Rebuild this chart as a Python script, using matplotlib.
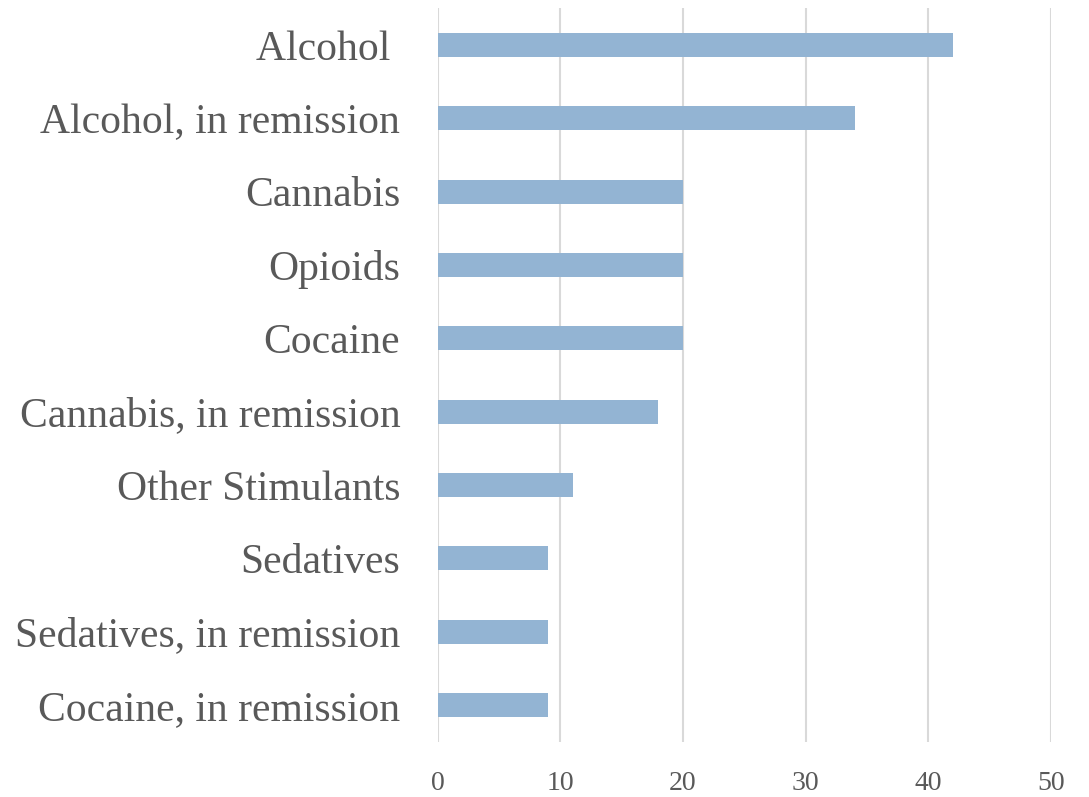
import matplotlib
matplotlib.use("Agg")
import matplotlib.pyplot as plt

# Substance use disorder categories, top to bottom
categories = [
    "Alcohol ",
    "Alcohol, in remission",
    "Cannabis",
    "Opioids",
    "Cocaine",
    "Cannabis, in remission",
    "Other Stimulants",
    "Sedatives",
    "Sedatives, in remission",
    "Cocaine, in remission",
]
counts = [42, 34, 20, 20, 20, 18, 11, 9, 9, 9]
xticks = [0, 10, 20, 30, 40, 50]

text_color = "#595959"
bar_color = "#93B4D3"

plt.rcParams["font.family"] = ["Liberation Serif", "DejaVu Serif"]

fig = plt.figure(figsize=(10.89, 7.97), dpi=100)
ax = fig.add_axes([0.402, 0.0694, 0.563, 0.9202])

y = list(range(len(categories)))
ax.barh(y, counts, height=0.33, color=bar_color, zorder=3)

ax.set_ylim(len(categories) - 0.5, -0.5)
ax.set_xlim(0, 50)
ax.set_yticks(y)
ax.set_yticklabels(categories, fontsize=30, color=text_color)
ax.set_xticks(xticks)
ax.set_xticklabels([str(t) for t in xticks], fontsize=20, color=text_color)

ax.grid(axis="x", color="#D9D9D9", linewidth=1.5, zorder=0)
for side in ["top", "right", "bottom", "left"]:
    ax.spines[side].set_visible(False)
ax.tick_params(axis="both", length=0)
ax.tick_params(axis="y", pad=27)
ax.tick_params(axis="x", pad=21)

fig.savefig("out.png", dpi=100)
